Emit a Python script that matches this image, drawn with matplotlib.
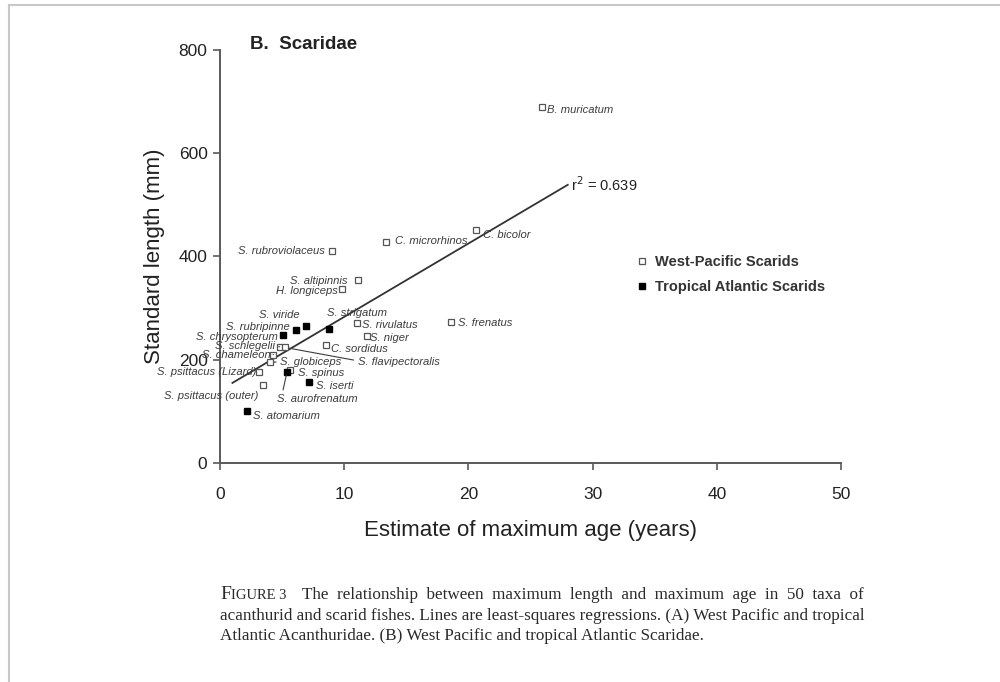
"""Scaridae: maximum length vs maximum age (Figure 3B recreation)."""

import matplotlib

matplotlib.use("Agg")
import matplotlib.pyplot as plt
from matplotlib.lines import Line2D

# =========================
# data
# =========================
pacific_names = [
    "B. muricatum", "C. bicolor", "C. microrhinos", "S. rubroviolaceus",
    "S. altipinnis", "H. longiceps", "S. frenatus", "S. rivulatus",
    "S. niger", "C. sordidus", "S. psittacus (Lizard)", "S. psittacus (outer)",
    "S. globiceps", "S. schlegelii", "S. chameleon", "S. spinus",
    "S. flavipectoralis",
]
pacific_age = [25.9, 20.6, 13.4, 9.0, 11.1, 9.8, 18.6, 11.0, 11.8, 8.5,
               3.1, 3.5, 4.0, 4.8, 4.3, 5.6, 5.2]
pacific_len = [690, 452, 428, 410, 355, 337, 273, 271, 246, 229,
               177, 152, 195, 225, 210, 180, 224]

atlantic_names = [
    "S. atomarium", "S. chrysopterum", "S. rubripinne", "S. viride",
    "S. strigatum", "S. aurofrenatum", "S. iserti",
]
atlantic_age = [2.2, 5.1, 6.1, 6.9, 8.8, 5.4, 7.2]
atlantic_len = [100, 248, 258, 266, 260, 177, 157]

# least-squares line (Scaridae), drawn over the fitted range
fit_intercept = 141.0
fit_slope = 14.2
fit_range = [1.0, 28.0]
fit_label = "r$^2$ = 0.639"

# 标签位置（数据坐标）: (x, y, ha, 引线起点 relpos 或 None)
LABEL_POS = {
    "B. muricatum": (26.3, 684, "left", None),
    "C. bicolor": (21.2, 442, "left", None),
    "C. microrhinos": (14.1, 430, "left", None),
    "S. rubroviolaceus": (8.45, 411, "right", None),
    "S. altipinnis": (10.3, 353, "right", None),
    "H. longiceps": (9.5, 333, "right", None),
    "S. frenatus": (19.2, 271, "left", None),
    "S. rivulatus": (11.4, 267, "left", None),
    "S. niger": (12.1, 242, "left", None),
    "C. sordidus": (8.9, 221, "left", None),
    "S. psittacus (Lizard)": (2.9, 176, "right", None),
    "S. psittacus (outer)": (3.06, 130, "right", None),
    "S. globiceps": (4.85, 196, "left", (0.0, 0.5)),
    "S. schlegelii": (4.4, 227, "right", (1.0, 0.5)),
    "S. chameleon": (4.05, 210, "right", (1.0, 0.5)),
    "S. spinus": (6.3, 174, "left", None),
    "S. flavipectoralis": (11.1, 196, "left", (0.0, 0.6)),
    "S. atomarium": (2.66, 91, "left", None),
    "S. chrysopterum": (4.65, 245, "right", None),
    "S. rubripinne": (5.6, 264, "right", None),
    "S. viride": (6.45, 286, "right", None),
    "S. strigatum": (8.6, 291, "left", None),
    "S. aurofrenatum": (4.6, 124, "left", (0.06, 0.9)),
    "S. iserti": (7.7, 149, "left", None),
}

TEXT_GREY = "#3c3c3c"
AXIS_GREY = "#5a5a5a"


def label_points(ax, names, xs, ys):
    """写物种名（斜体小字）。"""

    for name, x, y in zip(names, xs, ys):
        tx, ty, ha, relpos = LABEL_POS[name]
        props = None
        if relpos is not None:
            props = dict(arrowstyle="-", color=TEXT_GREY, lw=0.8, relpos=relpos,
                         shrinkA=1, shrinkB=3)
        ax.annotate(
            name, (x, y), xytext=(tx, ty), textcoords="data",
            ha=ha, va="center", fontsize=8.1, style="italic", color=TEXT_GREY,
            family="Liberation Sans", arrowprops=props,
        )


def main() -> None:
    fig = plt.figure(figsize=(10, 6.82), dpi=100)
    ax = fig.add_axes([0.22, 0.321, 0.621, 0.606])

    fit_y = [fit_intercept + fit_slope * x for x in fit_range]
    ax.plot(fit_range, fit_y, color="#333333", lw=1.3, zorder=2)
    ax.annotate(fit_label, (fit_range[1], fit_y[1]), xytext=(2, 0),
                textcoords="offset points", fontsize=10.5, color="#222222",
                va="center", family="Liberation Sans")

    ax.plot(pacific_age, pacific_len, "s", ms=5, mfc="white", mec="#555555",
            mew=0.9, ls="none", zorder=3, label="West-Pacific Scarids")
    ax.plot(atlantic_age, atlantic_len, "s", ms=5, mfc="black", mec="black",
            ls="none", zorder=3, label="Tropical Atlantic Scarids")

    label_points(ax, pacific_names, pacific_age, pacific_len)
    label_points(ax, atlantic_names, atlantic_age, atlantic_len)

    ax.set_xlim(0, 50)
    ax.set_ylim(0, 800)
    ax.set_xticks([0, 10, 20, 30, 40, 50])
    ax.set_yticks([0, 200, 400, 600, 800])
    for side in ("top", "right"):
        ax.spines[side].set_visible(False)
    for side in ("left", "bottom"):
        ax.spines[side].set_color(AXIS_GREY)
        ax.spines[side].set_linewidth(1.4)
    ax.tick_params(direction="out", length=5, width=1.2, color=AXIS_GREY,
                   labelsize=12.5, labelcolor="#222222")
    ax.tick_params(axis="x", pad=12)
    ax.tick_params(axis="y", pad=4)
    for lab in ax.get_xticklabels() + ax.get_yticklabels():
        lab.set_family("Liberation Sans")

    ax.set_xlabel("Estimate of maximum age (years)", fontsize=16,
                  family="Liberation Sans", color="#222222", labelpad=13)
    ax.set_ylabel("Standard length (mm)", fontsize=16,
                  family="Liberation Sans", color="#222222", labelpad=10)
    ax.text(0.048, 1.002, "B.  Scaridae", transform=ax.transAxes, fontsize=13.5,
            weight="bold", family="Liberation Sans", color="#222222", va="baseline")

    leg = ax.legend(loc="upper left", bbox_to_anchor=(0.66, 0.52), frameon=False,
                    fontsize=10.5, handlelength=0.6, handletextpad=0.6,
                    labelspacing=0.7, borderpad=0)
    for txt in leg.get_texts():
        txt.set_family("Liberation Sans")
        txt.set_weight("bold")
        txt.set_color("#333333")

    # figure caption (第一行两端对齐，用双空格近似)
    cap = dict(family="Liberation Serif", fontsize=12.3, color="#2a2a2a", va="baseline")
    fig.text(0.22, 0.122, "F", **{**cap, "fontsize": 14})
    fig.text(0.231, 0.122, "IGURE 3", **{**cap, "fontsize": 10.5})
    fig.text(0.302, 0.122,
             "The  relationship  between  maximum  length  and  maximum  age  in  50  taxa  of",
             **cap)
    fig.text(0.22, 0.091,
             "acanthurid and scarid fishes. Lines are least-squares regressions. (A) West Pacific and tropical",
             **cap)
    fig.text(0.22, 0.061,
             "Atlantic Acanthuridae. (B) West Pacific and tropical Atlantic Scaridae.",
             **cap)

    # grey screenshot frame
    fig.add_artist(Line2D([0.009, 0.009], [0.0, 0.993], transform=fig.transFigure,
                          color="#c8c8c8", lw=1.5))
    fig.add_artist(Line2D([0.009, 1.0], [0.993, 0.993], transform=fig.transFigure,
                          color="#c8c8c8", lw=1.5))

    fig.savefig("out.png", dpi=100)


if __name__ == "__main__":
    main()
